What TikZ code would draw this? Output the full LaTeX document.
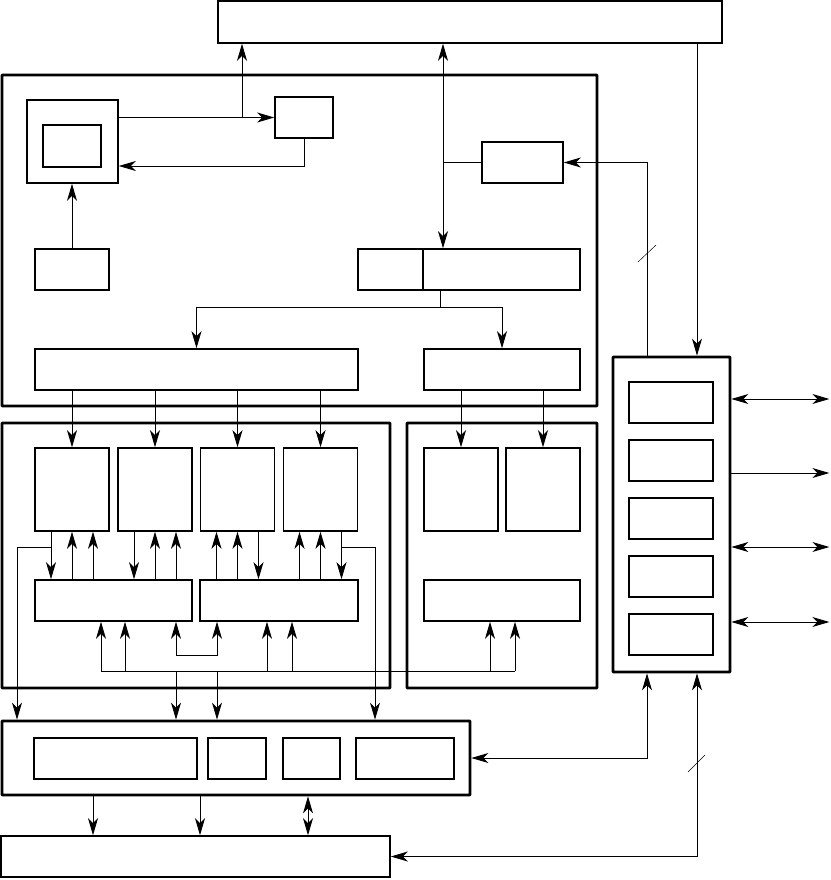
\documentclass[tikz,border=0pt]{standalone}
\usepackage{tikz}
\usetikzlibrary{arrows.meta,positioning,calc}

\begin{document}
\begin{tikzpicture}[x=0.03cm,y=-0.03cm,
 >={Stealth[length=14.5pt,width=8.5pt,inset=4.2pt]},
 blk/.style={draw,line width=1.3pt,inner sep=0pt},
 grp/.style={draw,line width=2.3pt,inner sep=0pt,rounded corners=0.5pt},
 sz/.style 2 args={minimum width=#1*0.03cm,minimum height=#2*0.03cm},
 wire/.style={line width=0.8pt},
 tick/.style={line width=0.4pt}]
\useasboundingbox (0,0) rectangle (830,880);

% containers
\node[grp,sz={595}{331}] (cpu) at (299.5,240.5) {};
\node[grp,sz={388}{265}] (grpB) at (196,555.5) {};
\node[grp,sz={190}{265}] (grpC) at (502,555.5) {};
\node[grp,sz={117}{315}] (io) at (671.5,514.5) {};
\node[grp,sz={468}{74}] (mem) at (236,758) {};

% boxes
\node[blk,sz={504}{42}] (host) at (470,22) {};
\node[blk,sz={389}{41}] (disk) at (195.5,856.5) {};
\node[blk,sz={91}{83}] (mon) at (72.5,141.5) {};
\node[blk,sz={58}{42}] (scr) at (72,146) {};
\node[blk,sz={58}{41}] (ctl) at (304,117.5) {};
\node[blk,sz={74}{41}] (kbd) at (72,269.5) {};
\node[blk,sz={81}{41}] (tmr) at (522.5,162.5) {};
\node[blk,sz={222}{41}] (dec) at (469,269.5) {};
\node[blk,sz={323}{41}] (busL) at (196.5,369.5) {};
\node[blk,sz={156}{41}] (busR) at (502,369.5) {};
\foreach \i/\x in {1/72,2/155,3/237.5,4/320.5}
  \node[blk,sz={74}{83}] (pe\i) at (\x,489.5) {};
\node[blk,sz={157}{41}] (sw1) at (113.5,600.5) {};
\node[blk,sz={158}{41}] (sw2) at (279,600.5) {};
\foreach \i/\x in {1/461,2/543}
  \node[blk,sz={74}{83}] (ce\i) at (\x,489.5) {};
\node[blk,sz={156}{41}] (sw3) at (502,600.5) {};
\foreach \i in {1,...,5}
  \node[blk,sz={84}{41}] (port\i) at (671,{402.5+58*(\i-1)}) {};
\node[blk,sz={163}{41}] (m1) at (115.5,758.5) {};
\node[blk,sz={58}{41}] (m2) at (237,758.5) {};
\node[blk,sz={57}{41}] (m3) at (311.5,758.5) {};
\node[blk,sz={98}{41}] (m4) at (405,758.5) {};

% upper part
\draw[wire,->] (mon.east |- ctl.west) -- (ctl.west);
\draw[wire,->] (242,0 |- ctl.west) -- (242,0 |- host.south);
\draw[wire,->] (ctl.south) |- (mon.east |- 0,166);
\draw[wire,->] (kbd.north) -- (kbd.north |- mon.south);
\draw[wire,<->] (443,0 |- host.south) -- (443,0 |- dec.north);
\draw[wire] (443,0 |- tmr.west) -- (tmr.west);
\draw[line width=1.3pt] (423,0 |- dec.north) -- (423,0 |- dec.south);
\draw[wire,->] (440,0 |- dec.south) -- (440,307) -| (busL.north);
\draw[wire,->] (440,307) -| (busR.north);

% buses to processing elements
\foreach \i in {1,...,4} \draw[wire,->] (pe\i.north |- busL.south) -- (pe\i.north);
\foreach \i in {1,2} \draw[wire,->] (ce\i.north |- busR.south) -- (ce\i.north);
\foreach \i in {1,2} {
  \draw[wire,->] ([shift={(-21,0)}]pe\i.south) -- ([shift={(-21,0)}]pe\i.south |- sw1.north);
  \draw[wire,<-] (pe\i.south) -- (pe\i.south |- sw1.north);
  \draw[wire,<-] ([shift={(21,0)}]pe\i.south) -- ([shift={(21,0)}]pe\i.south |- sw1.north);
}
\foreach \i in {3,4} {
  \draw[wire,<-] ([shift={(-21,0)}]pe\i.south) -- ([shift={(-21,0)}]pe\i.south |- sw2.north);
  \draw[wire,<-] (pe\i.south) -- (pe\i.south |- sw2.north);
  \draw[wire,->] ([shift={(21,0)}]pe\i.south) -- ([shift={(21,0)}]pe\i.south |- sw2.north);
}
\draw[wire,->] ([shift={(-21,16)}]pe1.south) -| (17,0 |- mem.north);
\draw[wire,->] ([shift={(21,16)}]pe4.south) -| (375,0 |- mem.north);

% bus below the switches
\coordinate (bus) at (0,671);
\draw[wire] (101,0 |- bus) -- (515,0 |- bus);
\foreach \x/\s in {101/sw1,125/sw1,267/sw2,292/sw2,490/sw3,515/sw3}
  \draw[wire,->] (\x,0 |- bus) -- (\x,0 |- \s.south);
\draw[wire,<->] (176,0 |- sw1.south) -- (176,655) -| (217,0 |- sw2.south);
\foreach \x in {176,217} \draw[wire,->] (\x,0 |- bus) -- (\x,0 |- mem.north);

% memory to disk
\foreach \x in {93,200} \draw[wire,->] (\x,0 |- mem.south) -- (\x,0 |- disk.north);
\draw[wire,<->] (308,0 |- mem.south) -- (308,0 |- disk.north);

% i/o unit
\draw[wire,->] (697,0 |- host.south) -- (697,0 |- io.north);
\draw[wire,->] (647,0 |- io.north) |- (tmr.east);
\draw[tick] (638,262) -- (656,245);
\draw[wire,<->] (mem.east) -| (647,0 |- io.south);
\draw[wire,<->] (disk.east) -| (697,0 |- io.south);
\draw[tick] (688,772) -- (705,755);
\foreach \y in {399,547,622} \draw[wire,<->] (io.east |- 0,\y) -- ++(98,0);
\draw[wire,->] (io.east |- 0,473) -- ++(98,0);
\end{tikzpicture}
\end{document}
